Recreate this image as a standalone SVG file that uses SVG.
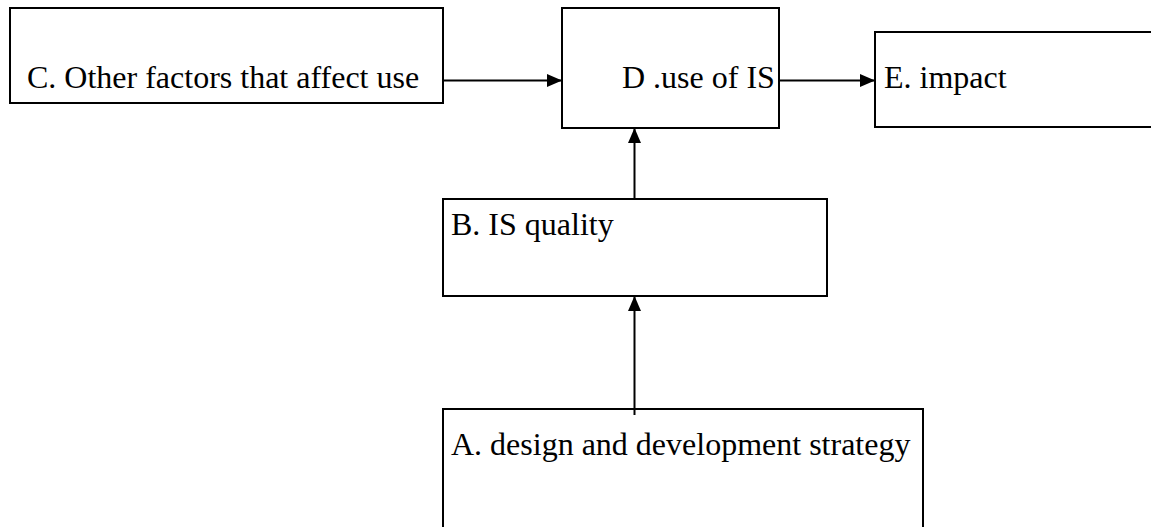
<svg xmlns="http://www.w3.org/2000/svg" width="1151" height="527" viewBox="0 0 1151 527">
<style>
.box{fill:#fff;stroke:#000;stroke-width:2}
.lbl{font-family:"Liberation Serif","Times New Roman",serif;font-size:32px;fill:#000}
.con{stroke:#000;stroke-width:2;fill:none}
</style>
<defs>
<marker id="ah" viewBox="0 0 15 13" refX="15" refY="6.5" markerWidth="15" markerHeight="13" markerUnits="userSpaceOnUse" orient="auto">
<path d="M0,0 L15,6.5 L0,13 Z" fill="#000"/>
</marker>
</defs>
<rect width="1151" height="527" fill="#fff"/>
<g id="nodeC"><rect class="box" x="10" y="8" width="433" height="95"/><text class="lbl" x="27" y="88">C. Other factors that affect use</text></g>
<g id="nodeD"><rect class="box" x="562" y="8" width="217" height="120"/><text class="lbl" x="622" y="88">D .use of IS</text></g>
<g id="nodeE"><rect class="box" x="875" y="32" width="300" height="95"/><text class="lbl" x="884" y="88">E. impact</text></g>
<g id="nodeB"><rect class="box" x="443" y="199" width="384" height="97"/><text class="lbl" x="451" y="235">B. IS quality</text></g>
<g id="nodeA"><rect class="box" x="443" y="409" width="480" height="140"/><text class="lbl" x="451" y="455">A. design and development strategy</text></g>
<g id="connectors">
<line class="con" x1="443" y1="80.5" x2="562" y2="80.5" marker-end="url(#ah)"/>
<line class="con" x1="779" y1="80.5" x2="875" y2="80.5" marker-end="url(#ah)"/>
<line class="con" x1="634.5" y1="199" x2="634.5" y2="128" marker-end="url(#ah)"/>
<line class="con" x1="634.5" y1="415" x2="634.5" y2="296" marker-end="url(#ah)"/>
</g>
</svg>
